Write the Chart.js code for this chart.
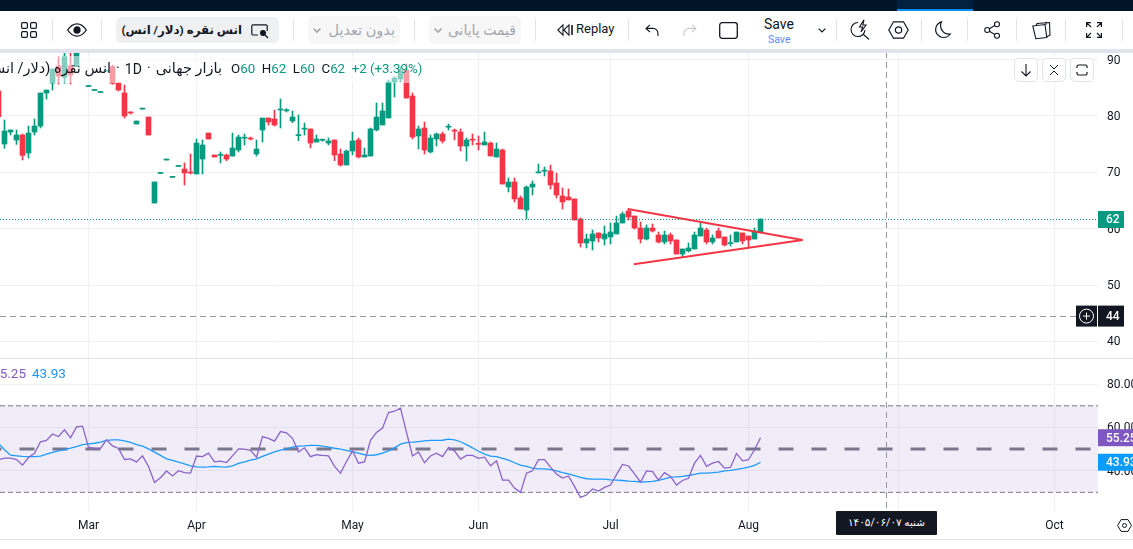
<!DOCTYPE html>
<html lang="fa">
<head>
<meta charset="utf-8">
<title>انس نقره</title>
<script src="https://cdn.jsdelivr.net/npm/chart.js@4"></script>
<style>
html,body{margin:0;padding:0;background:#fff;width:1133px;height:549px;overflow:hidden;font-family:Roboto,"DejaVu Sans",sans-serif;color:#131722}
.a{position:absolute}
#topbar{left:0;top:0;width:1133px;height:11px;background:#011528}
#toptab{left:897px;top:0;width:76px;height:11px;background:#02203f}
#topline{left:897px;top:9px;width:76px;height:3px;background:#0a8ef0}
#toolbar{left:0;top:11px;width:1133px;height:38px;background:#fff}
#stripe{left:0;top:49px;width:1133px;height:4px;background:#e0e3eb}
.sep{top:19px;width:1px;height:22px;background:#e0e3eb}
.pill{border-radius:5px;display:flex;align-items:center;justify-content:flex-start;box-sizing:border-box;direction:rtl;white-space:nowrap}
svg{position:absolute;overflow:visible}
#chart{position:absolute;left:0;top:52px}
#legend{left:0;top:56px;width:425px;height:27px;background:rgba(255,255,255,.5);overflow:hidden}
#legname{position:absolute;left:-80px;width:302px;top:3px;display:flex;justify-content:flex-end;align-items:center;font-size:14.5px;line-height:20px;white-space:nowrap}
#legname span{unicode-bidi:isolate;margin-left:5px}
#legvals{position:absolute;left:231px;top:3px;font-size:13.3px;line-height:20px;white-space:nowrap;color:#089981}
#legvals b{font-weight:400;color:#131722}
#rsileg{left:0;top:363px;width:80px;height:20px;overflow:hidden;font-size:13.5px;line-height:20px;white-space:nowrap}
.rbtn{top:58px;width:22px;height:22px;border:1px solid #e0e3eb;border-radius:5px;background:#fff;box-sizing:content-box}
#datebox{left:836px;top:511px;width:101px;height:24px;background:#131722;color:#fff;font-size:10.5px;line-height:24px;text-align:center;direction:rtl;border-radius:1px}
#bline{left:0;top:539px;width:1133px;height:1px;background:#e0e3eb}
</style>
</head>
<body>
<canvas id="chart" width="1133" height="488"></canvas>

<div class="a" id="topbar"></div><div class="a" id="toptab"></div><div class="a" id="topline"></div>
<div class="a" id="toolbar"></div><div class="a" id="stripe"></div>

<div class="a sep" style="left:52px"></div><div class="a sep" style="left:101px"></div><div class="a sep" style="left:293px"></div>
<div class="a sep" style="left:414px"></div><div class="a sep" style="left:535px"></div><div class="a sep" style="left:628px"></div>
<div class="a sep" style="left:836px"></div><div class="a sep" style="left:921px"></div><div class="a sep" style="left:967px"></div>
<div class="a sep" style="left:1016px"></div><div class="a sep" style="left:1065px"></div><div class="a sep" style="left:1122px"></div>

<!-- grid -->
<svg style="left:21px;top:22px" width="16" height="16" fill="none" stroke="#131722" stroke-width="1.2"><rect x=".6" y=".6" width="5.8" height="5.8" rx="1.2"/><rect x="9.6" y=".6" width="5.8" height="5.8" rx="1.2"/><rect x=".6" y="9.6" width="5.8" height="5.8" rx="1.2"/><rect x="9.6" y="9.6" width="5.8" height="5.8" rx="1.2"/></svg>
<!-- eye -->
<svg style="left:67px;top:23px" width="20" height="14" fill="none" stroke="#131722" stroke-width="1.3"><path d="M.7 7C4 2 7 .8 10 .8S16 2 19.3 7C16 12 13 13.2 10 13.2S4 12 .7 7Z"/><circle cx="10" cy="7" r="3" fill="#131722"/></svg>

<div class="a pill" style="left:116px;top:17px;width:163px;height:26px;background:#eff0f2;padding-right:37px;font-weight:700;font-size:11.8px">انس نقره (دلار/ انس)</div>
<svg style="left:251px;top:24px" width="18" height="14" fill="none" stroke="#131722" stroke-width="1.2"><path d="M7 11H2a1.2 1.2 0 0 1-1.2-1.2V2A1.2 1.2 0 0 1 2 .8h13A1.2 1.2 0 0 1 16.2 2v5"/><circle cx="12" cy="9" r="2.4" fill="#131722"/><path d="M14 11l3 3"/></svg>

<div class="a pill" style="left:308px;top:16px;width:92px;height:28px;background:#f7f7f8;color:#a3a6ad;font-size:14.5px;padding-right:5px">بدون تعدیل</div>
<svg style="left:313px;top:28px" width="8" height="5" fill="none" stroke="#a3a6ad" stroke-width="1.6"><path d="M.6.6L4 4 7.4.6"/></svg>
<div class="a pill" style="left:429px;top:16px;width:92px;height:28px;background:#f7f7f8;color:#a3a6ad;font-size:14px;padding-right:5px">قیمت پایانی</div>
<svg style="left:434px;top:28px" width="8" height="5" fill="none" stroke="#a3a6ad" stroke-width="1.6"><path d="M.6.6L4 4 7.4.6"/></svg>

<!-- replay -->
<svg style="left:557px;top:24px" width="16" height="12" fill="none" stroke="#131722" stroke-width="1.1"><path d="M6 .8L.8 6 6 11.2ZM12 .8L6.8 6l5.2 5.2Z"/><path d="M15 1v10" stroke-width="1.6"/></svg>
<div class="a" style="left:576px;top:20px;font-size:13px;line-height:18px">Replay</div>
<!-- undo/redo -->
<svg style="left:645px;top:24px" width="14" height="12" fill="none" stroke="#131722" stroke-width="1.1"><path d="M5 .8L1 4.4 5 8M1 4.4h7a5 5 0 0 1 5 5V12"/></svg>
<svg style="left:683px;top:24px" width="14" height="12" fill="none" stroke="#c9cbd1" stroke-width="1.1"><path d="M9 .8l4 3.6L9 8M13 4.4H6a5 5 0 0 0-5 5V12"/></svg>
<svg style="left:719px;top:22px" width="19" height="17" fill="none" stroke="#131722" stroke-width="1.3"><rect x=".7" y=".7" width="17.6" height="15.6" rx="2.5"/></svg>
<div class="a" style="left:764px;top:15px;font-size:14px;line-height:18px">Save</div>
<div class="a" style="left:768px;top:33px;font-size:10.5px;line-height:13px;color:#5b8cff">Save</div>
<svg style="left:818px;top:28px" width="8" height="5" fill="none" stroke="#131722" stroke-width="1.2"><path d="M.6.6L4 4 7.4.6"/></svg>
<!-- bolt lens -->
<svg style="left:851px;top:19px" width="19" height="21" fill="none" stroke="#131722" stroke-width="1.1"><path d="M7 3.5A7 7 0 1 0 14 11"/><path d="M13 .8L8.5 8h3.2L10 13l5-7h-3.2Z"/><path d="M12 15l6 5.5"/></svg>
<!-- hexagon -->
<svg style="left:888px;top:21px" width="21" height="18" fill="none" stroke="#131722" stroke-width="1.2"><path d="M.8 9L5.5.8h10L20.2 9l-4.7 8.2h-10Z"/><circle cx="10.5" cy="9" r="3.2"/></svg>
<!-- moon -->
<svg style="left:935px;top:21px" width="16" height="17" fill="none" stroke="#131722" stroke-width="1.2"><path d="M6.5.8A8 8 0 1 0 15.3 13 8.5 8.5 0 0 1 6.5.8Z"/></svg>
<!-- share -->
<svg style="left:984px;top:21px" width="17" height="18" fill="none" stroke="#131722" stroke-width="1.1"><circle cx="13" cy="3.2" r="2.5"/><circle cx="3.2" cy="9" r="2.5"/><circle cx="13" cy="14.8" r="2.5"/><path d="M5.4 7.7l5.4-3.2M5.4 10.3l5.4 3.2"/></svg>
<!-- notes -->
<svg style="left:1032px;top:21px" width="19" height="18" fill="none" stroke="#131722" stroke-width="1.1"><path d="M.8 5L13 3.5l1.8 13-11 1.2Z"/><path d="M4 4.5L5 2.5 17.5 1.5 18 14l-3 1.8"/><path d="M14 .8v3"/></svg>
<!-- fullscreen -->
<svg style="left:1086px;top:22px" width="16" height="16" fill="none" stroke="#131722" stroke-width="1.2"><path d="M.6 5V.6H5M.6.6L5 5M11 .6h4.4V5M15.4.6L11 5M.6 11v4.4H5M.6 15.4L5 11M15.4 11v4.4H11M15.4 15.4L11 11"/></svg>

<div class="a" id="legend">
  <div id="legname"><span>انس نقره (دلار/ انس)</span><span>·</span><span style="font-size:14px">1D</span><span>·</span><span>بازار جهانی</span></div>
  <div id="legvals"><b>O</b>60 &nbsp;<b>H</b>62 &nbsp;<b>L</b>60 &nbsp;<b>C</b>62 &nbsp;+2 (+3.39%)</div>
</div>
<div class="a" id="rsileg"><span style="position:absolute;right:54px;color:#7e57c2">55.25</span><span style="position:absolute;left:32px;color:#2196f3">43.93</span></div>

<div class="a rbtn" style="left:1014px"><svg style="left:5px;top:4px" width="12" height="14" fill="none" stroke="#131722" stroke-width="1.1"><path d="M6 1v12M1.5 8.5L6 13l4.5-4.5"/></svg></div>
<div class="a rbtn" style="left:1042px"><svg style="left:6px;top:5px" width="10" height="12" fill="none" stroke="#131722" stroke-width="1"><path d="M1 1l4 4 4-4M1 11l4-4 4 4"/></svg></div>
<div class="a rbtn" style="left:1070px"><svg style="left:5px;top:5px" width="12" height="12" fill="none" stroke="#131722" stroke-width="1.2"><path d="M1 4V2.5A1.5 1.5 0 0 1 2.5 1h7A1.5 1.5 0 0 1 11 2.5V4M1 8v1.5A1.5 1.5 0 0 0 2.5 11h7A1.5 1.5 0 0 0 11 9.5V8"/></svg></div>

<div class="a" id="datebox">شنبه ۱۴۰۵/۰۶/۰۷</div>
<svg style="left:1117px;top:519px" width="15" height="13" fill="none" stroke="#131722" stroke-width="1"><path d="M.6 6.5L4 .6h7l3.4 5.9L11 12.4H4Z"/><circle cx="7.5" cy="6.5" r="2"/></svg>
<div class="a" id="bline"></div>

<script>
// ---- candle values, first bar index = -1 ----
const firstBar = -1;
const opens = [84.41,75.01,77.14,75.72,76.61,73.42,77.14,78.2,84.06,85.83,88.84,86.83,88.84,88.72,93,85.2,84.5,84.15,87.9,88.73,85.83,84.06,80.69,78.56,81.2,79.8,64.55,69.8,72.17,69.1,71.04,70.58,70.05,69.7,72.35,76.96,73.06,73.0,73.06,72.88,73.95,76.05,75.98,73.24,77.5,79.62,79.45,81.05,80.9,79.09,76.5,77.65,77.68,75.37,75.68,75.19,75.73,73.24,71.29,73.77,75.73,72.71,72.89,77.5,78.39,79.63,86.01,86.54,88.14,83.53,76.44,77.85,73.6,75.9,76.79,78.0,77.35,77.14,74.66,75.75,75.0,74.84,75.19,72.71,73.95,67.39,68.28,65.44,63.31,67.39,69.9,70.2,70.23,68.1,65.8,65.62,65.27,61.72,57.46,57.82,59.24,58.17,58.53,59.06,61.01,63.14,62.25,60.12,58.17,60.12,58.88,57.64,58.88,58.0,55.51,56.05,56.4,58.7,59.77,57.64,59.59,58.53,57.35,57.64,59.24,58.7,58.17,59.41];
const highs = [85,79.27,77.5,77.5,76.79,78.2,79.45,84.06,84.59,88.31,90.5,91.09,91.09,92,94,85.24,84.53,84.17,87.93,89.02,85.89,85.47,80.75,79.09,81.22,79.8,68.28,69.81,72.18,69.1,71.05,71.65,73.24,75.9,75.72,76.96,73.06,73.6,73.24,76.96,76.61,76.79,76.25,75.72,79.62,79.62,81.04,83.0,81.28,80.87,80.16,78.74,77.68,76.61,75.9,76.08,75.73,74.13,73.95,77.14,76.08,74.31,77.85,82.29,82.29,86.36,86.96,88.73,89.2,84.06,78.2,78.92,76.61,76.97,77.14,78.56,77.68,77.68,76.08,76.79,76.44,77.14,75.37,75.19,74.13,68.99,68.99,65.8,67.57,68.46,71.47,70.94,71.29,69.87,67.22,67.04,65.27,61.9,59.06,59.77,59.24,60.48,61.01,62.25,62.96,63.49,62.25,61.19,60.66,60.83,59.41,59.59,59.24,58.0,56.4,57.46,59.41,61.01,60.12,58.88,60.12,58.53,58.88,59.41,59.24,58.7,60.12,61.72];
const lows = [79.5,74.25,76.61,74.95,72.18,72.53,76.61,77.85,82.99,84.59,85.65,85.77,85.65,88.72,93,85.2,84.5,84.15,87.9,85.6,84.41,79.62,80.33,78.56,81.2,76.61,64.55,69.8,72.17,69.1,71.04,67.75,69.7,69.7,69.7,75.9,72.71,71.65,72.06,72.88,73.6,74.84,75.72,72.88,75.37,78.38,78.2,77.85,80.69,78.8,75.61,76.61,74.31,75.37,75.49,74.84,72.06,71.1,71.29,73.07,72.53,72.71,72.89,77.32,78.39,79.63,83.35,86.01,83.17,75.9,74.13,73.24,73.42,74.66,75.19,77.5,75.73,73.78,72.0,74.84,73.95,74.84,72.89,72.71,67.92,66.51,64.73,63.49,61.72,65.97,69.87,69.34,67.04,65.44,63.49,65.09,61.54,56.75,56.58,56.22,57.64,57.11,57.29,59.06,61.01,61.54,59.95,57.46,58.0,59.41,57.46,57.29,57.29,55.51,54.98,55.87,56.4,58.7,57.29,57.29,58.35,56.93,56.93,57.64,57.29,56.58,58.17,59.41];
const closes = [79.86,77.32,77.5,76.61,73.0,76.96,78.2,84.06,84.59,88.31,87.07,90.5,87.25,91.68,94,85.24,84.53,84.17,87.93,85.77,84.59,79.98,80.51,79.09,81.22,76.61,68.28,69.81,72.18,69.1,71.05,69.87,69.87,75.19,74.84,75.9,72.71,73.06,72.35,74.3,76.25,76.08,75.9,74.13,79.62,78.92,78.38,81.16,80.93,79.8,76.55,77.68,75.19,75.9,75.72,75.55,73.07,71.29,73.77,75.55,72.71,73.07,77.68,79.8,80.87,86.01,86.72,88.02,83.17,76.26,77.68,73.95,76.08,76.79,75.55,78.03,77.3,74.66,75.73,75.7,74.95,75.37,72.89,74.13,67.92,68.28,65.27,63.49,67.39,67.92,69.93,70.23,67.75,65.97,64.73,65.09,61.54,57.46,58.17,59.06,58.35,59.06,59.41,61.01,62.6,62.07,60.12,58.17,60.12,59.59,57.64,58.88,57.82,55.51,56.4,56.58,58.88,60.12,57.64,58.35,58.35,57.11,57.4,59.41,57.82,58.0,59.59,61.72];

// ---- RSI and its moving average, same bar indexes ----
const rsiValues = [45.1,45.8,45.8,45.2,42.6,46.1,48.1,53.4,54.0,57.0,55.8,58.9,55.2,60.3,60.6,50.9,50.3,50.3,54.3,51.5,50.3,45.2,45.5,44.1,46.9,42.0,34.6,36.8,39.9,37.6,40.0,39.1,38.9,46.8,46.5,48.1,44.1,44.4,43.8,46.9,50.1,50.0,49.4,46.3,55.8,55.0,53.7,58.1,57.5,55.0,48.7,50.6,46.5,47.4,47.1,46.9,42.0,38.9,44.3,49.2,43.5,44.1,54.1,57.7,59.7,66.9,67.5,68.9,57.7,46.8,48.7,43.7,46.8,48.1,46.5,50.7,49.2,45.4,47.1,47.1,45.7,46.3,42.3,44.6,35.7,35.7,32.0,30.0,38.9,40.0,45.1,45.1,41.7,38.5,36.6,37.6,32.8,27.7,28.8,31.6,30.6,32.3,33.4,38.2,42.9,42.2,38.6,34.8,39.9,39.6,35.7,39.1,37.4,33.4,35.5,36.5,43.5,47.1,42.0,43.5,44.3,41.2,41.5,48.0,44.6,45.1,49.7,55.25];
const rsiMa = [52.7,49.7,47.2,46.9,46.6,46.5,46.5,46.8,47.7,48.5,49.2,49.8,50.4,51.2,52.1,52.4,52.7,53.2,54.0,54.3,54.3,53.8,53.1,52.1,51.4,50.1,48.6,47.1,45.5,44.8,44.0,43.2,42.3,41.8,41.7,41.8,42.0,41.8,41.7,42.3,43.4,44.1,44.9,45.5,46.6,47.7,48.7,49.5,50.1,50.9,51.4,51.5,51.7,51.7,51.4,50.9,50.4,50.0,49.4,48.7,48.1,47.4,47.1,47.4,48.1,49.2,50.6,52.3,53.0,53.2,53.5,53.8,54.0,54.0,54.1,54.6,54.3,53.4,52.1,50.6,49.0,47.7,46.8,46.5,45.7,44.9,43.7,42.6,42.0,41.2,40.9,40.9,40.5,39.9,39.1,38.6,37.8,36.9,36.3,36.1,36.1,36.1,35.8,35.7,35.5,35.2,35.1,34.8,34.9,35.1,35.5,36.3,37.1,37.2,37.4,37.8,38.3,38.9,38.9,39.1,39.4,39.9,40.2,40.6,41.1,41.7,42.5,43.93];

// ---- axes ----
const priceTicks = {min:37.07, max:91.33, step:10};
const rsiTicks = {min:21.4, max:92.1, step:20};
const rsiBands = {upper:70, middle:50, lower:30};
const monthLabels = ['Mar','Apr','May','Jun','Jul','Aug','','Oct'];
const monthBars = [14,32,58,79,101,124,149,175];
const barRange = {min:-0.75, max:182.25};

// ---- annotations ----
const lastPrice = 61.63, lastPriceLabel = '62';
const crossPrice = 44.5, crossPriceLabel = '44', crossBar = 147;
const rsiLast = 55.25, maLast = 43.93;
const trendBars = [103.88,133.03,104.88];
const trendPrices = [63.49,57.99,53.69];

const UP='#089981', DOWN='#f23645', GRID='#f1f1f4', TXT='#131722', GREY='#787b86';
const idx = opens.map((_,i)=>firstBar+i);
const isUp = i => closes[i]>=opens[i];
const colors = idx.map((_,i)=>isUp(i)?UP:DOWN);
const flat = v => [{x:barRange.min,y:v},{x:barRange.max,y:v}];
const lineBase = {type:'line',pointRadius:0,tension:0,order:1};
const noPad = s => {s.paddingTop=0;s.paddingBottom=0;s.paddingLeft=0;s.paddingRight=0;};

const panesPlugin = {
  id:'panes',
  afterDatasetsDraw(c){
    const g=c.ctx,p=c.scales.y,r=c.scales.rsi,x=c.scales.x,a=c.chartArea;
    g.save();
    g.strokeStyle='#e0e3eb';g.lineWidth=1;g.beginPath();g.moveTo(0,r.top+.5);g.lineTo(c.width,r.top+.5);g.stroke();
    g.strokeStyle='#9598a1';g.setLineDash([6,4]);
    const cx=x.getPixelForValue(crossBar), cy=Math.round(p.getPixelForValue(crossPrice))+.5;
    g.beginPath();g.moveTo(cx,a.top);g.lineTo(cx,a.bottom);g.stroke();
    g.beginPath();g.moveTo(0,cy);g.lineTo(a.right,cy);g.stroke();
    g.restore();
  },
  afterDraw(c){
    const g=c.ctx,p=c.scales.y,r=c.scales.rsi;
    const box=(txt,yc,h,bg,w)=>{
      g.fillStyle=bg;g.fillRect(1098,yc-h/2,w,h);
      g.fillStyle='#fff';g.font='500 12px Roboto';g.textAlign='left';g.textBaseline='middle';
      g.fillText(txt,1106,yc+1);
    };
    box(lastPriceLabel,p.getPixelForValue(lastPrice),17,UP,26);
    const yc=p.getPixelForValue(crossPrice);
    box(crossPriceLabel,yc,21,TXT,26);
    g.fillStyle=TXT;g.fillRect(1076,yc-10.5,21,21);
    g.strokeStyle='#fff';g.lineWidth=1;g.beginPath();g.arc(1086.5,yc,7,0,Math.PI*2);g.stroke();
    g.beginPath();g.moveTo(1083,yc);g.lineTo(1090,yc);g.moveTo(1086.5,yc-3.5);g.lineTo(1086.5,yc+3.5);g.stroke();
    box(rsiLast.toFixed(2),r.getPixelForValue(rsiLast),17,'#7e57c2',35);
    box(maLast.toFixed(2),r.getPixelForValue(maLast),17,'#0a9bff',35);
  }
};

new Chart(document.getElementById('chart'),{
  data:{datasets:[
    {type:'bar',label:'wicks',data:idx.map((k,i)=>({x:k,y:[lows[i],highs[i]]})),backgroundColor:colors,barThickness:1,minBarLength:1,grouped:false,order:3,yAxisID:'y',borderWidth:0},
    {type:'bar',label:'bodies',data:idx.map((k,i)=>({x:k,y:[opens[i],closes[i]]})),backgroundColor:colors,barThickness:5,minBarLength:1,grouped:false,order:2,yAxisID:'y',borderWidth:0},
    {...lineBase,label:'last',data:flat(lastPrice),borderColor:UP,borderWidth:1,borderDash:[1,2],yAxisID:'y'},
    {...lineBase,label:'trend',data:trendBars.map((b,i)=>({x:b,y:trendPrices[i]})),borderColor:DOWN,borderWidth:2,borderJoinStyle:'bevel',yAxisID:'y',order:0},
    {...lineBase,label:'band',data:flat(rsiBands.upper),borderColor:GREY,borderWidth:1,borderDash:[5,3],fill:{target:{value:rsiBands.lower}},backgroundColor:'rgba(126,87,194,.115)',yAxisID:'rsi'},
    {...lineBase,label:'lower',data:flat(rsiBands.lower),borderColor:GREY,borderWidth:1,borderDash:[5,3],yAxisID:'rsi'},
    {...lineBase,label:'middle',data:flat(rsiBands.middle),borderColor:GREY,borderWidth:3,borderDash:[15,18],borderDashOffset:13.5,yAxisID:'rsi'},
    {...lineBase,label:'RSI',data:idx.map((k,i)=>({x:k,y:rsiValues[i]})),borderColor:'#8a63c8',borderWidth:1.3,yAxisID:'rsi',order:0},
    {...lineBase,label:'MA',data:idx.map((k,i)=>({x:k,y:rsiMa[i]})),borderColor:'#1e9bff',borderWidth:1.3,yAxisID:'rsi',order:0}
  ]},
  options:{
    responsive:false,animation:false,devicePixelRatio:1,
    layout:{padding:0},
    plugins:{legend:{display:false},tooltip:{enabled:false}},
    scales:{
      x:{type:'linear',position:'bottom',offset:false,min:barRange.min,max:barRange.max,
        afterBuildTicks:s=>{s.ticks=monthBars.map(v=>({value:v}));},
        afterFit:s=>{s.height=29;noPad(s);},
        grid:{color:GRID,drawTicks:false,offset:false},border:{display:false},
        ticks:{autoSkip:false,maxRotation:0,padding:8,color:TXT,font:{family:'Roboto',size:12},
          callback:(v)=>{const i=monthBars.indexOf(v);return i<0?'':monthLabels[i];}}},
      y:{type:'linear',position:'right',offset:false,stack:'panes',stackWeight:306,min:priceTicks.min,max:priceTicks.max,
        afterFit:s=>{s.width=35;noPad(s);},
        grid:{color:GRID,drawTicks:false,offset:false},border:{display:false},
        ticks:{stepSize:priceTicks.step,includeBounds:false,padding:9,labelOffset:1,color:TXT,font:{family:'Roboto',size:12}}},
      rsi:{type:'linear',position:'right',offset:false,stack:'panes',stackWeight:153,min:rsiTicks.min,max:rsiTicks.max,
        afterFit:s=>{s.width=35;noPad(s);},
        grid:{color:GRID,drawTicks:false,offset:false},border:{display:false},
        ticks:{stepSize:rsiTicks.step,includeBounds:false,padding:9,labelOffset:1,color:TXT,font:{family:'Roboto',size:12},callback:v=>Number(v).toFixed(2)}}
    }
  },
  plugins:[panesPlugin]
});
</script>
</body>
</html>
